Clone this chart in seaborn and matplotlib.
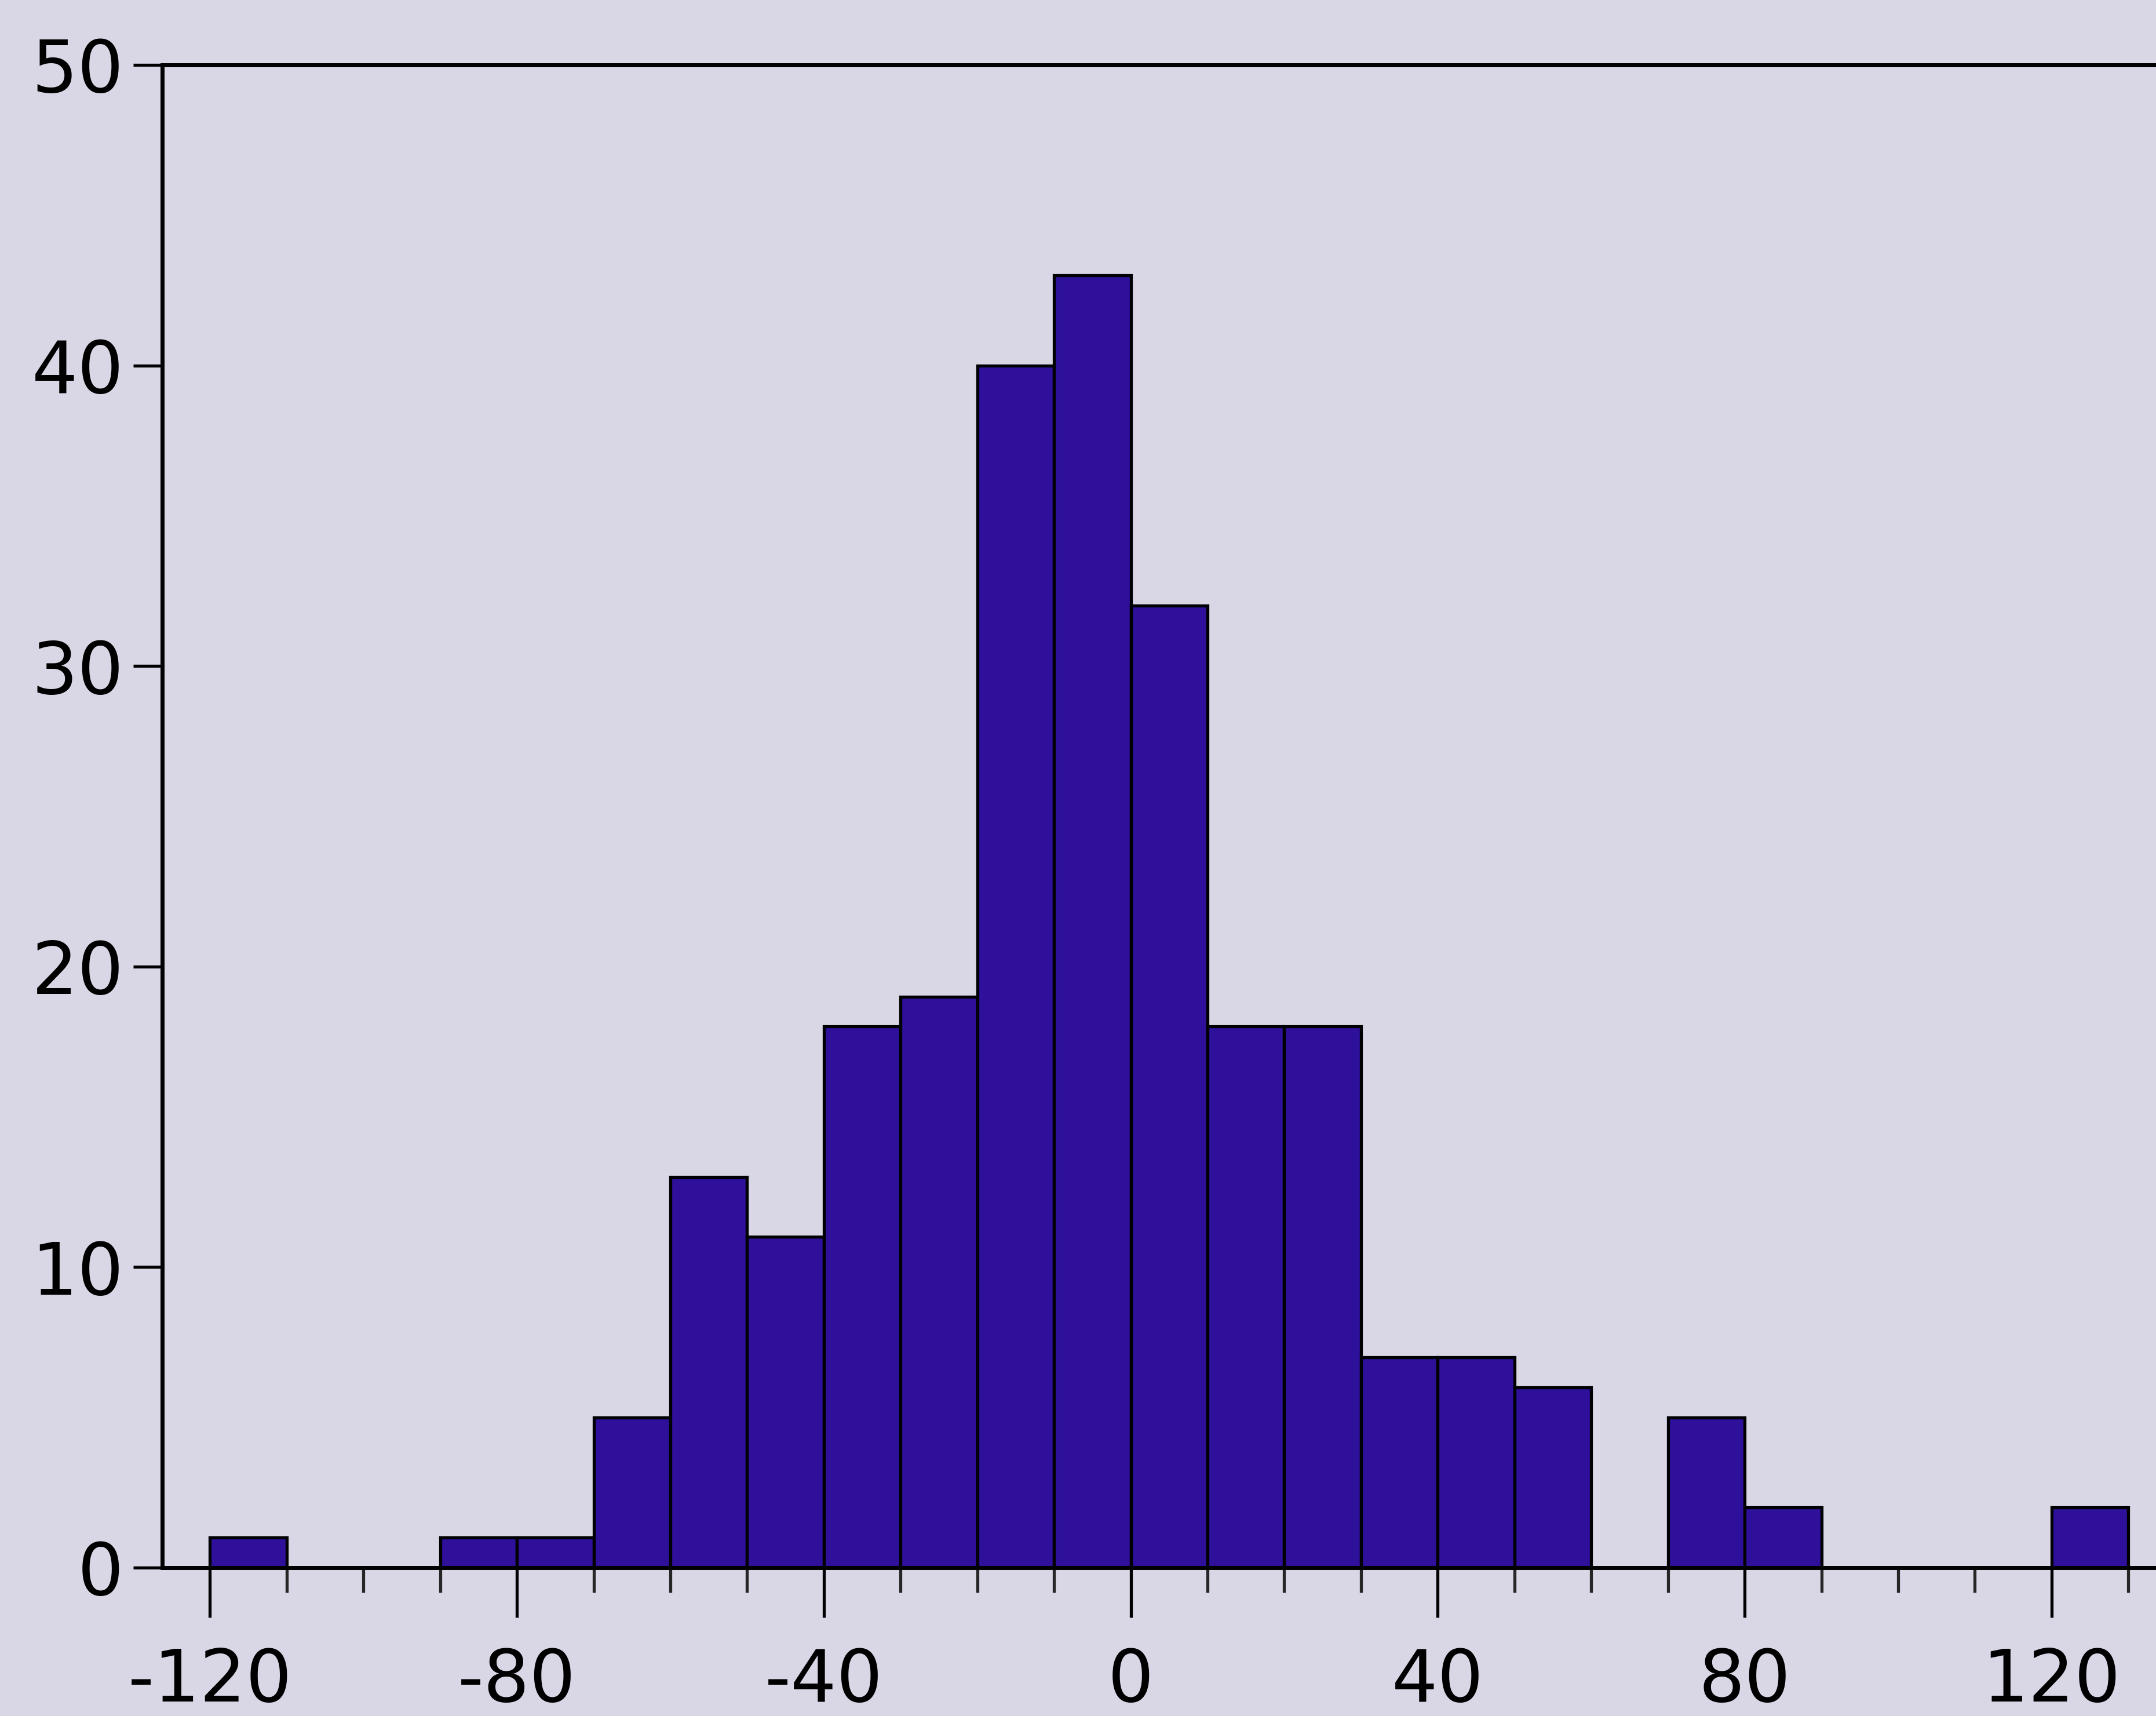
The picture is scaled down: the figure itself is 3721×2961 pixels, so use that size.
import numpy as np
import pandas as pd
import seaborn as sns
import matplotlib
matplotlib.use("Agg")
import matplotlib.pyplot as plt
from matplotlib.ticker import MultipleLocator

# Data: histogram with bins of width 10
bin_left = [-120, -110, -100, -90, -80, -70, -60, -50, -40, -30, -20, -10,
            0, 10, 20, 30, 40, 50, 60, 70, 80, 90, 100, 110, 120]
counts = [1, 0, 0, 1, 1, 5, 13, 11, 18, 19, 40, 43,
          32, 18, 18, 7, 7, 6, 0, 5, 2, 0, 0, 0, 2]
x_ticks = [-120, -80, -40, 0, 40, 80, 120]
y_ticks = [0, 10, 20, 30, 40, 50]

bin_width = 10
edges = bin_left + [bin_left[-1] + bin_width]
df = pd.DataFrame({"x": [b + bin_width / 2 for b in bin_left], "n": counts})

bg = "#d9d7e5"
bar_color = "#2e109a"

sns.set_style("ticks")
plt.rcParams["font.family"] = ["DejaVu Sans"]

fig = plt.figure(figsize=(37.21, 29.61), dpi=100, facecolor=bg)
ax = fig.add_axes([0.0753, 0.0865, 0.9247, 0.8757])
ax.set_facecolor(bg)

sns.histplot(data=df, x="x", weights="n", bins=edges, ax=ax,
             color=bar_color, alpha=1, edgecolor="black", linewidth=3.8)

ax.set_xlim(-126.2, 133.6)
ax.set_ylim(0, 50)
ax.set_xticks(x_ticks)
ax.set_xticklabels([str(t) for t in x_ticks])
ax.xaxis.set_minor_locator(MultipleLocator(10))
ax.set_yticks(y_ticks)
ax.set_xlabel("")
ax.set_ylabel("")

for s in ["left", "bottom", "top"]:
    ax.spines[s].set_linewidth(5)
    ax.spines[s].set_color("black")
ax.spines["right"].set_visible(False)

ax.tick_params(axis="x", which="major", length=62, width=3.8, pad=36,
               labelsize=90, colors="black", direction="out")
ax.tick_params(axis="x", which="minor", length=31, width=3.8, direction="out")
ax.tick_params(axis="y", which="major", length=36, width=3.8, pad=12,
               labelsize=90, colors="black", direction="out")

fig.savefig("out.png", dpi=100, facecolor=bg)
